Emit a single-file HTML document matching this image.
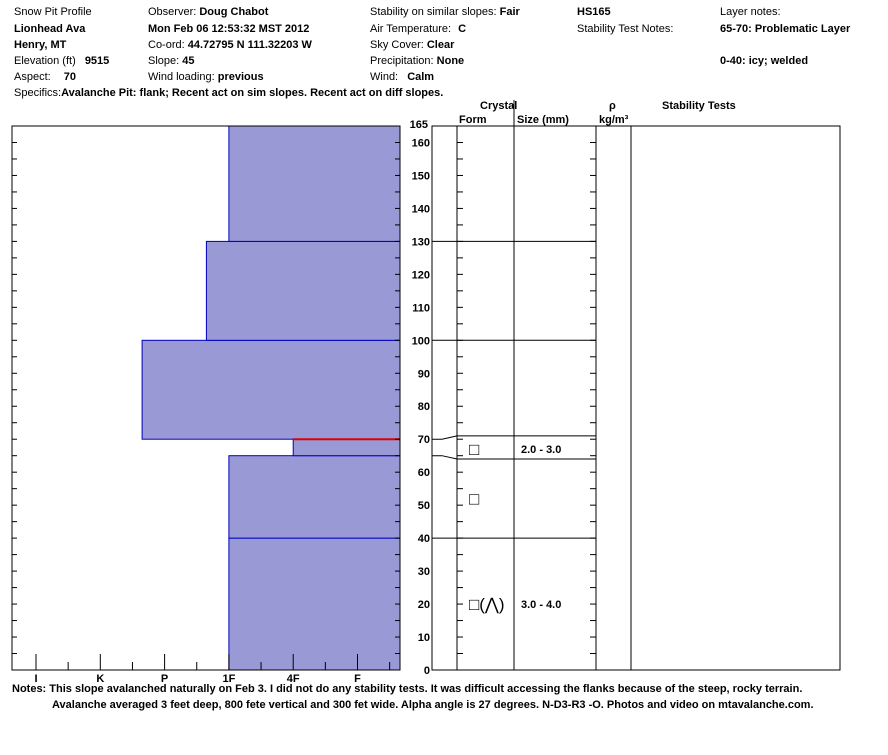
<!DOCTYPE html>
<html><head><meta charset="utf-8"><style>
body{margin:0;background:#fff;width:888px;height:750px;overflow:hidden;font-family:"Liberation Sans",sans-serif}
svg text{font-family:"Liberation Sans",sans-serif;font-size:11px;fill:#000}
.b{font-weight:bold}
</style></head><body>
<svg id="c" width="888" height="750">
<g>
<text x="14" y="15">Snow Pit Profile</text>
<text x="14" y="32" class="b">Lionhead Ava</text>
<text x="14" y="48" class="b">Henry, MT</text>
<text x="14" y="64">Elevation (ft) <tspan class="b" dx="6">9515</tspan></text>
<text x="14" y="80">Aspect: <tspan class="b" dx="10">70</tspan></text>
<text x="14" y="96">Specifics:<tspan class="b">Avalanche Pit: flank; Recent act on sim slopes. Recent act on diff slopes.</tspan></text>
<text x="148" y="15">Observer: <tspan class="b">Doug Chabot</tspan></text>
<text x="148" y="32" class="b">Mon Feb 06 12:53:32 MST 2012</text>
<text x="148" y="48">Co-ord: <tspan class="b">44.72795 N 111.32203 W</tspan></text>
<text x="148" y="64">Slope: <tspan class="b">45</tspan></text>
<text x="148" y="80">Wind loading: <tspan class="b">previous</tspan></text>
<text x="370" y="15">Stability on similar slopes: <tspan class="b">Fair</tspan></text>
<text x="370" y="32">Air Temperature: <tspan class="b" dx="4">C</tspan></text>
<text x="370" y="48">Sky Cover: <tspan class="b">Clear</tspan></text>
<text x="370" y="64">Precipitation: <tspan class="b">None</tspan></text>
<text x="370" y="80">Wind: <tspan class="b" dx="6">Calm</tspan></text>
<text x="577" y="15" class="b">HS165</text>
<text x="577" y="32">Stability Test Notes:</text>
<text x="720" y="15">Layer notes:</text>
<text x="720" y="32" class="b">65-70: Problematic Layer</text>
<text x="720" y="64" class="b">0-40: icy; welded</text>
</g>
<g>
<text x="480" y="109" class="b">Crystal</text>
<text x="459" y="123" class="b">Form</text>
<text x="517" y="123" class="b">Size (mm)</text>
<text x="609" y="109" class="b">ρ</text>
<text x="599" y="123" class="b">kg/m³</text>
<text x="662" y="109" class="b">Stability Tests</text>
</g>
<g id="hard"></g>
<g id="right"></g>
<g>
<text x="12" y="692" class="b">Notes:  This slope avalanched naturally on Feb 3.  I did not do any stability tests.  It was difficult accessing the flanks because of the steep, rocky terrain.</text>
<text x="52" y="708" class="b">Avalanche averaged 3 feet deep, 800 fete vertical and 300 fet wide.  Alpha angle is 27 degrees.  N-D3-R3 -O. Photos and video on mtavalanche.com.</text>
</g>
</svg>
<script>
const layerTops=[40,65,70,100,130,165];
const layerBottoms=[0,40,65,70,100,130];
const layerHardness=[3,3,4,1.65,2.65,3];
const hardnessLabels=["I","K","P","1F","4F","F"];
const depthTicks=[0,10,20,30,40,50,60,70,80,90,100,110,120,130,140,150,160];
const grainDepths=[67,52,20];
const grainLabels=["□","□","□(⋀)"];
const sizeDepths=[67,20];
const sizeLabels=["2.0 - 3.0","3.0 - 4.0"];
const boundaryDepths=[130,100,40];
const weakTop=71, weakBottom=64;
const HS=165;
const NS="http://www.w3.org/2000/svg";
const y=d=>670-d*(544/HS);
const hx=h=>36+h*64.3;
function mk(p,t,a){const e=document.createElementNS(NS,t);for(const k in a)e.setAttribute(k,a[k]);p.appendChild(e);return e;}
const H=document.getElementById('hard'),R=document.getElementById('right');
let fr=mk(H,'rect',{x:12,y:y(HS),width:388,height:y(0)-y(HS),fill:'#fff',stroke:'#000'});

for(let i=0;i<layerTops.length;i++){
 const r=mk(H,'rect',{x:hx(layerHardness[i]),y:y(layerTops[i]),width:400-hx(layerHardness[i]),height:y(layerBottoms[i])-y(layerTops[i]),fill:'#9999d6',stroke:'#0000c0','stroke-width':1});
 
 
}
const rl=mk(H,'line',{x1:hx(4),x2:400,y1:y(70),y2:y(70),stroke:'#e00000','stroke-width':2});

mk(H,'rect',{x:12,y:y(HS),width:388,height:y(0)-y(HS),fill:'none',stroke:'#000'});
for(let h=0;h<=5.5;h+=0.5){const x=hx(h);mk(H,'line',{x1:x,x2:x,y1:670,y2:h%1?662:654,stroke:'#000'});}
hardnessLabels.forEach((l,i)=>{const t=mk(H,'text',{x:hx(i),y:682,'text-anchor':'middle',class:'b'});t.textContent=l;
 });
for(let d=5;d<HS;d+=5){mk(H,'line',{x1:12,x2:17,y1:y(d),y2:y(d),stroke:'#000'});mk(H,'line',{x1:395,x2:400,y1:y(d),y2:y(d),stroke:'#000'});}
depthTicks.forEach(d=>{const t=mk(R,'text',{x:430,y:y(d)+4,'text-anchor':'end',class:'b'});t.textContent=d;
 });
const t165=mk(R,'text',{x:428,y:y(HS)+2,'text-anchor':'end',class:'b'});t165.textContent='165';

const bx=mk(R,'rect',{x:432,y:y(HS),width:408,height:y(0)-y(HS),fill:'none',stroke:'#000'});

[457,596,631].forEach(x=>mk(R,'line',{x1:x,x2:x,y1:y(HS),y2:670,stroke:'#000'}));
mk(R,'line',{x1:514,x2:514,y1:100,y2:670,stroke:'#000'});
for(let d=5;d<HS;d+=5){mk(R,'line',{x1:457,x2:463,y1:y(d),y2:y(d),stroke:'#000'});mk(R,'line',{x1:590,x2:596,y1:y(d),y2:y(d),stroke:'#000'});}
boundaryDepths.forEach(d=>{const l=mk(R,'line',{x1:432,x2:596,y1:y(d),y2:y(d),stroke:'#000'});
 });
mk(R,'line',{x1:457,x2:596,y1:y(weakTop),y2:y(weakTop),stroke:'#000'});
mk(R,'line',{x1:457,x2:596,y1:y(weakBottom),y2:y(weakBottom),stroke:'#000'});
mk(R,'polyline',{points:`432,${y(70)} 442,${y(70)} 457,${y(weakTop)}`,fill:'none',stroke:'#000'});
mk(R,'polyline',{points:`432,${y(65)} 442,${y(65)} 457,${y(weakBottom)}`,fill:'none',stroke:'#000'});
grainDepths.forEach((d,i)=>{const t=mk(R,'text',{x:469,y:y(d)+6,style:'font-size:17px'});t.textContent=grainLabels[i];
 });
sizeDepths.forEach((d,i)=>{const t=mk(R,'text',{x:521,y:y(d)+4,class:'b'});t.textContent=sizeLabels[i];
 });
</script>
</body></html>
